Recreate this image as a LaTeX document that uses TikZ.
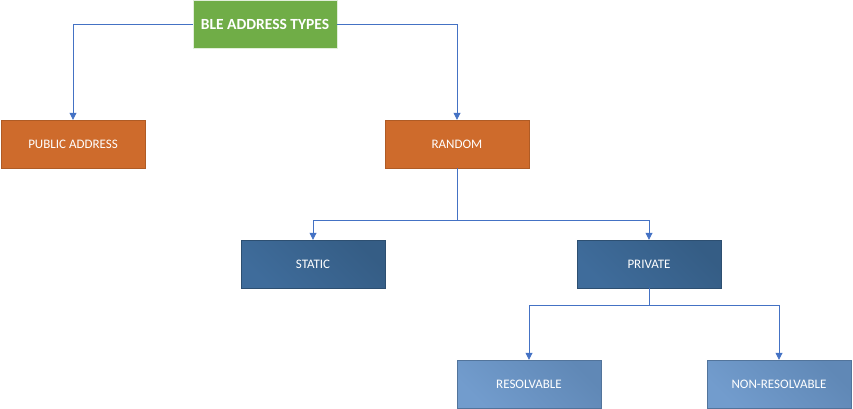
\documentclass[tikz,border=0pt]{standalone}
\usepackage{fontspec}
\setmainfont{Carlito}
\usetikzlibrary{arrows.meta}
\definecolor{lineblue}{HTML}{4472C4}
\definecolor{bgreen}{HTML}{70AD47}
\definecolor{borange}{HTML}{CE6B2C}
\definecolor{dblueA}{HTML}{3F6C9B}
\definecolor{dblueB}{HTML}{355D85}
\definecolor{lblueA}{HTML}{729CCD}
\definecolor{lblueB}{HTML}{6088B6}
\tikzset{
  box/.style={minimum width=144pt, minimum height=48pt, inner sep=0pt, text=white, font=\fontsize{13}{15}\selectfont},
  titlebox/.style={box, fill=bgreen, draw=white!80!bgreen, line width=0.6pt, font=\bfseries\fontsize{15.5}{17}\selectfont},
  orangebox/.style={box, fill=borange, draw=borange!85!black, line width=0.4pt},
  darkbox/.style={box, draw=dblueB!85!black, line width=0.4pt, left color=dblueA, right color=dblueB, shading angle=135},
  lightbox/.style={box, draw=lblueB!85!black, line width=0.4pt, left color=lblueA, right color=lblueB, shading angle=135},
  conn/.style={draw=lineblue, line width=0.8pt, -{Triangle[length=7pt,width=7pt]}},
  plain/.style={draw=lineblue, line width=0.8pt}
}
\begin{document}
\begin{tikzpicture}[x=1pt,y=-1pt]
\useasboundingbox (0,0) rectangle (853,409);
\node[titlebox] (ble) at (265,24) {BLE ADDRESS TYPES};
\node[orangebox] (pub) at (73,144) {PUBLIC ADDRESS};
\node[orangebox] (rnd) at (457,144) {RANDOM};
\node[darkbox] (sta) at (313,264) {STATIC};
\node[darkbox] (pri) at (649,264) {PRIVATE};
\node[lightbox] (res) at (529,384) {RESOLVABLE};
\node[lightbox] (non) at (779,384) {NON-RESOLVABLE};
\coordinate (j1) at (457,220);
\coordinate (j2) at (649,305);
\draw[conn] (ble.west) -| (pub.north);
\draw[conn] (ble.east) -| (rnd.north);
\draw[plain] (rnd.south) -- (j1);
\draw[conn] (j1) -| (sta.north);
\draw[conn] (j1) -| (pri.north);
\draw[plain] (pri.south) -- (j2);
\draw[conn] (j2) -| (res.north);
\draw[conn] (j2) -| (non.north);
\end{tikzpicture}
\end{document}
